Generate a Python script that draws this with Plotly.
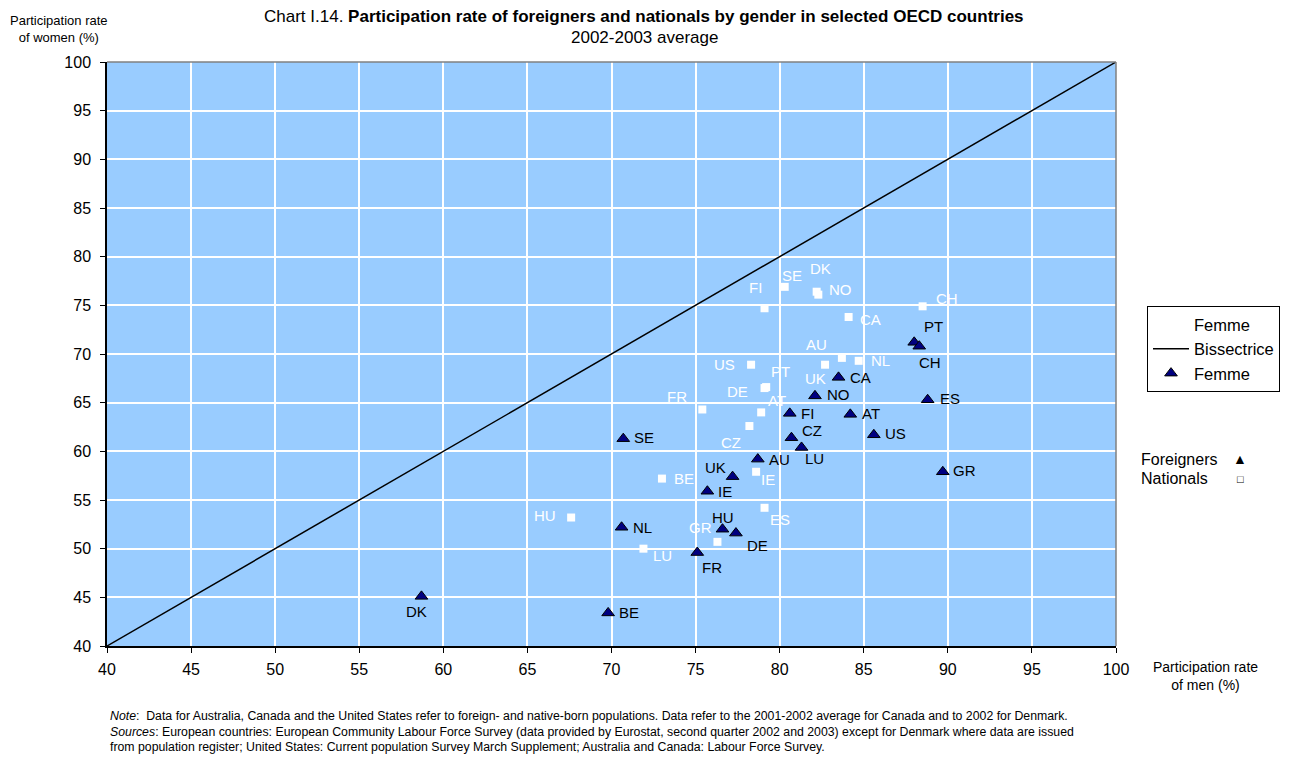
import plotly.graph_objects as go

# ---- Data ----
for_codes = ["DK", "BE", "SE", "NL", "FR", "HU", "DE", "IE", "UK", "AU", "LU",
             "CZ", "FI", "NO", "CA", "AT", "US", "ES", "PT", "CH", "GR"]
for_men = [58.7, 69.8, 70.7, 70.6, 75.1, 76.6, 77.4, 75.7, 77.2, 78.7, 81.3,
           80.7, 80.6, 82.1, 83.5, 84.2, 85.6, 88.8, 88.0, 88.3, 89.7]
for_women = [45.1, 43.4, 61.3, 52.2, 49.6, 52.0, 51.6, 55.9, 57.4, 59.2, 60.4,
             61.4, 63.9, 65.7, 67.6, 63.8, 61.7, 65.3, 71.2, 70.8, 57.9]

nat_codes = ["SE", "DK", "NO", "FI", "CH", "CA", "AU", "NL", "UK", "US", "PT",
             "DE", "AT", "FR", "CZ", "BE", "IE", "ES", "GR", "LU", "HU"]
nat_men = [80.3, 82.2, 82.3, 79.1, 88.5, 84.1, 83.7, 84.7, 82.7, 78.3, 79.2,
           79.1, 78.9, 75.4, 78.2, 73.0, 78.6, 79.1, 76.3, 71.9, 67.6]
nat_women = [76.9, 76.4, 76.1, 74.7, 74.9, 73.8, 69.6, 69.3, 68.9, 68.9, 66.6,
             66.5, 64.0, 64.3, 62.6, 57.2, 57.9, 54.2, 50.7, 50.0, 53.2]

bis_x = [40, 100]
bis_y = [40, 100]

tick_vals = list(range(40, 101, 5))

# ---- Label offsets in pixels (dx right, dy down) ----
for_off = [(-5, 15), (21, 0), (21, -1), (21, 0), (15, 15), (1, -12), (22, 12), (18, 0),
           (-17, -9), (22, 0), (13, 11), (21, -7), (18, 0), (24, -1), (22, 0), (21, -1),
           (22, -1), (22, -1), (19, -16), (11, 16), (22, -1)]
nat_off = [(7, -11), (4, -23), (22, -5), (-9, -21), (24, -8), (22, 2), (-25, -13), (22, 0),
           (-10, 14), (-27, 0), (14, -16), (-27, 3), (16, -12), (-25, -13), (-18, 16),
           (22, 0), (12, 8), (15, 12), (-17, -14), (19, 7), (-26, -2)]

FONT = "Arial, Liberation Sans, sans-serif"

fig = go.Figure()

fig.add_trace(go.Scatter(
    x=nat_men, y=nat_women, mode="markers", name="Femme",
    marker=dict(symbol="square", size=8, color="white", line=dict(width=0)),
    cliponaxis=False,
))
fig.add_trace(go.Scatter(
    x=bis_x, y=bis_y, mode="lines", name="Bissectrice",
    line=dict(color="black", width=1.5),
))
fig.add_trace(go.Scatter(
    x=for_men, y=for_women, mode="markers", name="Femme",
    marker=dict(symbol="triangle-up", size=11, color="#000080",
                line=dict(color="black", width=1)),
    cliponaxis=False,
))

axis_common = dict(
    range=[40, 100], tickvals=tick_vals, showgrid=True, gridcolor="white",
    gridwidth=1.5, zeroline=False, showline=True, linecolor="black", linewidth=1.5,
    ticks="outside", ticklen=5, tickcolor="black",
    tickfont=dict(size=16, color="black", family=FONT),
)

fig.update_xaxes(**axis_common, ticklabelstandoff=3)
fig.update_yaxes(**axis_common, ticklabelstandoff=6)

annotations = []
for code, xv, yv, (dx, dy) in zip(nat_codes, nat_men, nat_women, nat_off):
    annotations.append(dict(text=code, x=xv, y=yv, xref="x", yref="y", showarrow=False,
                            xshift=dx, yshift=-dy, xanchor="center", yanchor="middle",
                            font=dict(size=15, family=FONT, color="white")))
for code, xv, yv, (dx, dy) in zip(for_codes, for_men, for_women, for_off):
    annotations.append(dict(text=code, x=xv, y=yv, xref="x", yref="y", showarrow=False,
                            xshift=dx, yshift=-dy, xanchor="center", yanchor="middle",
                            font=dict(size=15, family=FONT, color="black")))

def px_x(p):
    return (p - 107) / 1009

def px_y(p):
    return (646 - p) / 584

annotations += [
    dict(text="Chart I.14. <b>Participation rate of foreigners and nationals by gender in selected OECD countries</b>",
         xref="paper", yref="paper", x=px_x(644), y=px_y(16), showarrow=False,
         xanchor="center", yanchor="middle", font=dict(size=17, family=FONT, color="black")),
    dict(text="2002-2003 average",
         xref="paper", yref="paper", x=px_x(644), y=px_y(37), showarrow=False,
         xanchor="center", yanchor="middle", font=dict(size=17, family=FONT, color="black")),
    dict(text="Participation rate<br>of women (%)",
         xref="paper", yref="paper", x=px_x(59), y=px_y(29), showarrow=False,
         xanchor="center", yanchor="middle", align="center",
         font=dict(size=13, family=FONT, color="black")),
    dict(text="Participation rate<br>of men (%)",
         xref="paper", yref="paper", x=px_x(1205), y=px_y(676), showarrow=False,
         xanchor="center", yanchor="middle", align="center",
         font=dict(size=14, family=FONT, color="black")),
    dict(text="Foreigners", xref="paper", yref="paper", x=px_x(1139),
         y=px_y(459), showarrow=False, xanchor="left", yanchor="middle",
         font=dict(size=16, family=FONT, color="black")),
    dict(text="▲", xref="paper", yref="paper", x=px_x(1240),
         y=px_y(459), showarrow=False, xanchor="center", yanchor="middle",
         font=dict(size=14, family=FONT, color="black")),
    dict(text="Nationals", xref="paper", yref="paper", x=px_x(1139),
         y=px_y(478), showarrow=False, xanchor="left", yanchor="middle",
         font=dict(size=16, family=FONT, color="black")),
    dict(text="□", xref="paper", yref="paper", x=px_x(1240),
         y=px_y(479), showarrow=False, xanchor="center", yanchor="middle",
         font=dict(size=11, family=FONT, color="black")),
]

notes = [
    "<i>Note</i>:  Data for Australia, Canada and the United States refer to foreign- and native-born populations. Data refer to the 2001-2002 average for Canada and to 2002 for Denmark.",
    "<i>Sources</i>: European countries: European Community Labour Force Survey (data provided by Eurostat, second quarter 2002 and 2003) except for Denmark where data are issued",
    "from population register; United States: Current population Survey March Supplement; Australia and Canada: Labour Force Survey.",
]
note_y = [716, 732, 747]
for t, py in zip(notes, note_y):
    annotations.append(dict(text=t, xref="paper", yref="paper", x=px_x(108),
                            y=px_y(py), showarrow=False, xanchor="left",
                            yanchor="middle", align="left",
                            font=dict(size=12.3, family=FONT, color="black")))

# page body has an 8px margin, so the figure is offset by 8px
fig.update_layout(
    width=1290, height=750,
    margin=dict(l=99, r=182, t=54, b=112),
    plot_bgcolor="#99CCFF", paper_bgcolor="white",
    font=dict(family=FONT, color="black"),
    showlegend=True,
    legend=dict(x=px_x(1147), y=px_y(306), xanchor="left", yanchor="top",
                bordercolor="black", borderwidth=1, bgcolor="white",
                font=dict(size=16.5, family=FONT, color="black"),
                tracegroupgap=0, itemwidth=36),
    annotations=annotations,
    shapes=[
        dict(type="line", xref="paper", yref="paper", x0=0, x1=1, y0=1, y1=1,
             line=dict(color="#808080", width=1.5)),
        dict(type="line", xref="paper", yref="paper", x0=1, x1=1, y0=0, y1=1,
             line=dict(color="#808080", width=1.5)),
    ],
)

fig.write_html("out.html")
